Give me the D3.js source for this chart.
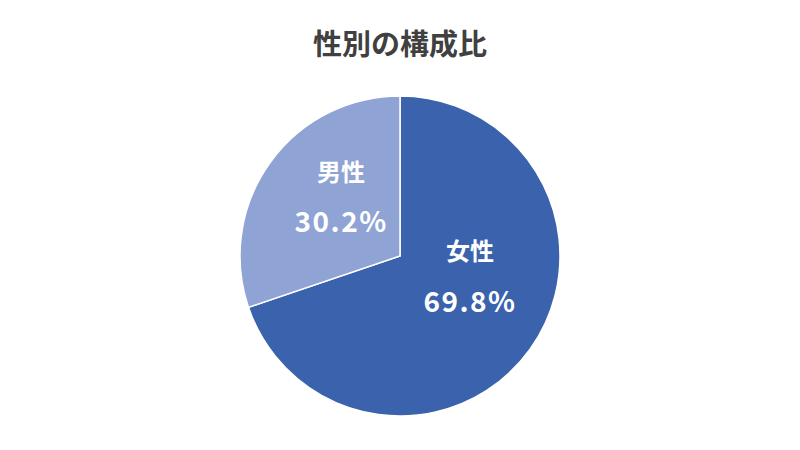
<!DOCTYPE html>
<html>
<head>
<meta charset="utf-8">
<script src="https://cdn.jsdelivr.net/npm/d3@7"></script>
<style>
  body { margin: 0; background: #fff; }
  svg { display: block; font-family: "Noto Sans CJK JP", "Noto Sans", sans-serif; }
</style>
</head>
<body>
<svg class="canvas" width="800" height="450"></svg>
<script>
// data
const categories = ["女性", "男性"];
const shares = [69.8, 30.2];
const colors = ["#3A62AD", "#8FA3D4"];

const svg = d3.select(".canvas");
const width = 800, height = 450;
const cx = 400, cy = 256, radius = 160;

svg.append("text")
  .attr("x", width / 2)
  .attr("y", 42)
  .attr("text-anchor", "middle")
  .attr("dominant-baseline", "central")
  .attr("font-size", 29)
  .attr("font-weight", "bold")
  .attr("fill", "#404040")
  .text("性別の構成比");

const data = categories.map((c, i) => ({ name: c, value: shares[i], color: colors[i] }));

const pie = d3.pie().value(d => d.value).sort(null);
const arc = d3.arc().innerRadius(0).outerRadius(radius);
const labelArc = d3.arc().innerRadius(75).outerRadius(75);

const g = svg.append("g").attr("transform", `translate(${cx},${cy})`);
const arcs = pie(data);

g.selectAll("path")
  .data(arcs)
  .enter()
  .append("path")
  .attr("d", arc)
  .attr("fill", d => d.data.color)
  .attr("stroke", "#fff")
  .attr("stroke-width", 1.5);

// nudge labels the way the original placed them
const nudge = { "女性": [9, -25], "男性": [2, -17] };

const labels = g.selectAll("g.label")
  .data(arcs)
  .enter()
  .append("g")
  .attr("class", "label")
  .attr("transform", d => {
    const [x, y] = labelArc.centroid(d);
    const n = nudge[d.data.name] || [0, 0];
    return `translate(${x + n[0]},${y + n[1]})`;
  });

labels.append("text")
  .attr("y", -25)
  .attr("text-anchor", "middle")
  .attr("dominant-baseline", "central")
  .attr("font-size", 24)
  .attr("font-weight", "bold")
  .attr("fill", "#fff")
  .text(d => d.data.name);

labels.append("text")
  .attr("y", 25)
  .attr("text-anchor", "middle")
  .attr("dominant-baseline", "central")
  .attr("font-size", 28)
  .attr("font-weight", "bold")
  .attr("letter-spacing", 1.5)
  .attr("fill", "#fff")
  .text(d => d.data.value.toFixed(1) + "%");
</script>
</body>
</html>
